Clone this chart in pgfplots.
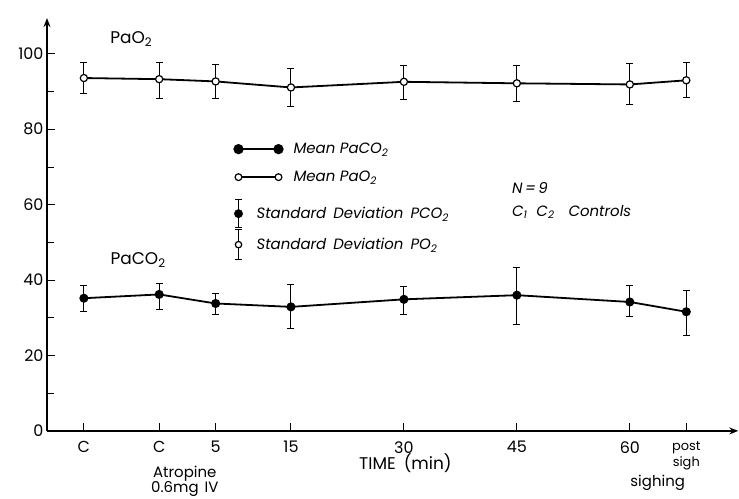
\documentclass[border=0pt]{standalone}
\usepackage{fontspec}
\setmainfont{Poppins}
\usepackage{pgfplots}
\pgfplotsset{compat=1.18}
\usepackage{pgfplotstable}
\usetikzlibrary{arrows.meta}

% x = time position (C1, C2 plotted before 0 min), y = mean, ep/em = SD above/below
\pgfplotstableread{
x     y     ep   em
-12.5 93.6  4.0  4.2
-2.5  93.3  4.4  5.2
5     92.7  4.6  4.5
15    91.1  5.0  5.1
30    92.6  4.3  4.6
45    92.2  4.7  4.9
60    91.9  5.5  5.3
67.5  93.0  4.7  4.5
}\paotwo

\pgfplotstableread{
x     y     ep   em
-12.5 35.2  3.4  3.4
-2.5  36.2  2.8  3.9
5     33.8  2.6  2.8
15    32.9  5.9  5.8
30    34.9  3.4  3.9
45    36.0  7.4  7.9
60    34.2  4.3  3.9
67.5  31.6  5.7  6.2
}\pacotwo

\newcommand{\fs}[1]{\fontsize{#1}{#1}\selectfont}

\begin{document}
\begin{tikzpicture}[font=\fs{14}]
\begin{axis}[
  x=7.53bp, y=3.77bp,
  xmin=-17.4, xmax=74.4, ymin=0, ymax=109.5,
  axis lines=left,
  axis line style={line width=1.3bp, -{Stealth[length=9bp,width=7bp]}},
  clip=false,
  xtick={-12.5,-2.5,5,15,30,45,60,67.5},
  xticklabels={C,C,5,15,30,45,60,{{\fs{13}post}\\{\fs{13}sigh}}},
  ytick={0,20,40,60,80,100},
  minor ytick={10,30,50,70,90},
  tick align=inside,
  major tick length=8bp, minor tick length=7bp,
  tick style={line width=1bp, black},
  tick label style={font=\fs{16}},
  xticklabel style={align=center, yshift=-7bp},
  /pgf/number format/assume math mode=true,
  legend style={at={(axis cs:7.33,78.37)}, anchor=north west, draw=none, fill=none,
    inner sep=0pt, font=\fs{15}\itshape,
    row sep=1bp, column sep=11bp},
  legend cell align=left,
]

\addplot[black, line width=1.8bp, mark=*, mark size=3.6bp,
  legend image code/.code={
    \path[draw=none, fill=none] (0bp,-13.5bp) -- (0bp,13.5bp);
    \draw[line width=1.8bp, overlay] (0bp,0bp) -- (40bp,0bp);
    \fill (0bp,0bp) circle (4.2bp);
    \fill[overlay] (40bp,0bp) circle (4.2bp);},
  error bars/.cd, y dir=both, y explicit,
  error bar style={line width=1bp},
  error mark options={rotate=90, mark size=3.5bp, line width=1bp}]
  table[x=x, y=y, y error plus=ep, y error minus=em] {\pacotwo};
\addlegendentry{\hspace*{37bp}Mean PaCO\textsubscript{2}}

\addplot[black, line width=1.8bp, mark=*, mark size=3.6bp,
  mark options={fill=white, line width=1.2bp},
  legend image code/.code={
    \path[draw=none, fill=none] (0bp,-13.5bp) -- (0bp,13.5bp);
    \draw[line width=1.8bp, overlay] (0bp,0bp) -- (40bp,0bp);
    \draw[line width=1.2bp, fill=white] (0bp,0bp) circle (3.4bp);
    \draw[line width=1.2bp, fill=white, overlay] (40bp,0bp) circle (3.4bp);},
  error bars/.cd, y dir=both, y explicit,
  error bar style={line width=1bp},
  error mark options={rotate=90, mark size=3.5bp, line width=1bp}]
  table[x=x, y=y, y error plus=ep, y error minus=em] {\paotwo};
\addlegendentry{\hspace*{37bp}Mean PaO\textsubscript{2}}

\addlegendimage{legend image code/.code={
  \path[draw=none, fill=none] (0bp,-14bp) -- (0bp,22bp);
  \draw[line width=1bp] (0bp,-14bp) -- (0bp,14bp);
  \draw[line width=1bp] (-3.5bp,-14bp) -- (3.5bp,-14bp);
  \draw[line width=1bp] (-3.5bp,14bp) -- (3.5bp,14bp);
  \fill (0bp,0bp) circle (4.2bp);}}
\addlegendentry{Standard\hspace{7bp}Deviation\hspace{7bp}PCO\textsubscript{2}}

\addlegendimage{legend image code/.code={
  \draw[line width=1bp] (0bp,-15bp) -- (0bp,15bp);
  \draw[line width=1bp] (-3.5bp,-15bp) -- (3.5bp,-15bp);
  \draw[line width=1bp] (-3.5bp,15bp) -- (3.5bp,15bp);
  \draw[line width=1.2bp, fill=white] (0bp,0bp) circle (3.2bp);}}
\addlegendentry{Standard\hspace{7bp}Deviation\hspace{7bp}PO\textsubscript{2}}

\node[font=\fs{17}] at (axis cs:-6.2,104) {PaO\textsubscript{2}};
\node[font=\fs{17}] at (axis cs:-5.3,45.4) {PaCO\textsubscript{2}};
\node[anchor=west, font=\fs{15}\itshape] at (axis cs:43.9,64.5) {N\,=\,9};
\node[anchor=west, font=\fs{15}\itshape] at (axis cs:43.9,58.1)
  {C\textsubscript{1}\hspace{9bp}C\textsubscript{2}\hspace{14bp}Controls};
\node[align=center, font=\fs{15}] at (axis cs:0.9,-13.4) {Atropine\\0.6mg\hspace{6bp}IV};
\node[font=\fs{17}] at (axis cs:30.2,-8.5) {TIME\hspace{8bp}(min)};
\node[font=\fs{15}] at (axis cs:63.7,-13.9) {sighing};

\coordinate (bbl) at (axis cs:-23.64,-18.04);
\coordinate (btr) at (axis cs:74.5,114.3);
\end{axis}
\pgfresetboundingbox
\path[use as bounding box] (bbl) rectangle (btr);
\end{tikzpicture}
\end{document}
